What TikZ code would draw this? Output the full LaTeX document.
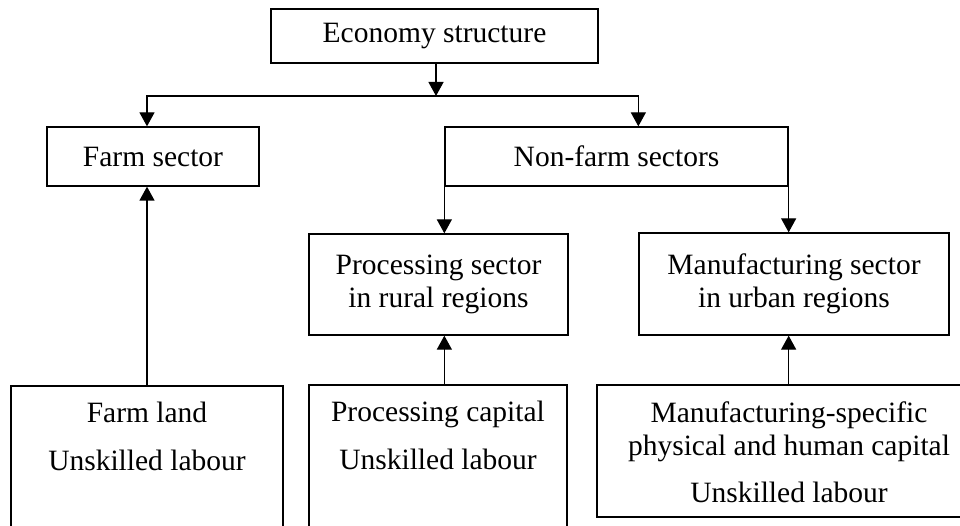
\documentclass[tikz,border=0pt]{standalone}
\usepackage{fontspec}
\setmainfont{Liberation Serif}
\usetikzlibrary{arrows.meta}
\begin{document}
\begin{tikzpicture}[x=1pt,y=-1pt,line width=1.3pt,>={Triangle[width=15pt,length=14pt]},font=\fontsize{29.5}{33}\selectfont,
		box/.style={draw,align=center,inner sep=0pt},
		txt/.style={anchor=north,align=center,inner sep=0pt}]
	\useasboundingbox (0,0) rectangle (960,526);
	\clip (0,0) rectangle (960,526);
	\node[box,minimum width=327pt,minimum height=54pt] (econ) at (434.5,36) {Economy structure};
	\node[box,minimum width=212pt,minimum height=59pt] (farm) at (153,156.5) {Farm sector};
	\node[box,minimum width=343pt,minimum height=59pt] (nonfarm) at (616.5,156.5) {Non-farm sectors};
	\node[box,minimum width=259pt,minimum height=101pt] (proc) at (438.5,284.5) {Processing sector\\in rural regions};
	\node[box,minimum width=310pt,minimum height=102pt] (manu) at (794,284) {Manufacturing sector\\in urban regions};
	\node[box,minimum width=272pt,minimum height=174pt] (land) at (147,473) {};
	\node[box,minimum width=258pt,minimum height=175pt] (pcap) at (438,472.5) {};
	\node[box,minimum width=384pt,minimum height=132pt] (mcap) at (789,451) {};
	\node[txt] (landtxt) at ([yshift=-16pt]land.north) {Farm land\\[15pt]Unskilled labour};
	\node[txt] (pcaptxt) at ([yshift=-16pt]pcap.north) {Processing capital\\[15pt]Unskilled labour};
	\node[txt] (mcaptxt) at ([yshift=-17pt]mcap.north) {Manufacturing-specific\\physical and human capital\\[14pt]Unskilled labour};
	\coordinate (fork) at (436,96);
	\draw[->] (econ.south -| fork) -- (fork);
	\draw[->] (fork) -| (land.north |- farm.north);
	\draw[->] (fork) -| (manu.north west |- nonfarm.north);
	\draw[->] (nonfarm.south west) -- (nonfarm.south west |- proc.north);
	\draw[->] (nonfarm.south east) -- (nonfarm.south east |- manu.north);
	\draw[->] (land.north) -- (land.north |- farm.south);
	\draw[->] (pcap.north -| nonfarm.south west) -- (proc.south -| nonfarm.south west);
	\draw[->] (mcap.north -| nonfarm.south east) -- (manu.south -| nonfarm.south east);
\end{tikzpicture}
\end{document}
